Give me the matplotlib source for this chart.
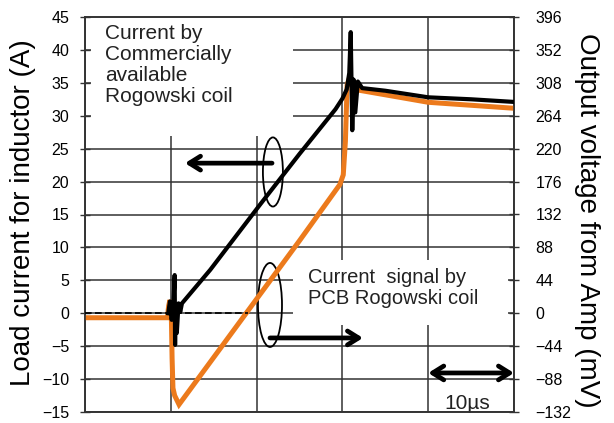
import matplotlib
matplotlib.use('Agg')
import matplotlib.pyplot as plt
from matplotlib.patches import Ellipse, Rectangle

plt.rcParams['font.family'] = ['Liberation Sans', 'DejaVu Sans']

# time axis (us), 5 divisions of 10 us
t_ticks = [0, 10, 20, 30, 40, 50]
a_ticks = list(range(-15, 46, 5))          # left axis, A
mv_ticks = list(range(-132, 397, 44))      # right axis, mV

# commercial Rogowski coil current (A)
t_blk = [9.7, 9.9, 10.1, 10.3, 10.45, 10.5, 10.55, 10.7, 10.9, 11.1, 11.3, 14.6, 20.4, 25.0,
         29.2, 30.0, 30.5, 30.8, 30.97, 31.05, 31.15, 31.3, 31.5, 31.8, 32.3, 35.0, 40.0, 45.0, 50.0]
blk_a = [0.0, 1.8, -1.0, 1.5, 5.8, -4.8, 1.0, -3.0, 1.5, 0.2, 1.5, 6.6, 16.5, 24.2,
         31.0, 32.6, 34.0, 36.5, 42.7, 36.0, 27.8, 35.5, 30.5, 35.2, 34.2, 33.8, 32.8, 32.5, 32.1]

# PCB Rogowski coil amp output (mV)
t_org = [0, 9.6, 9.75, 9.9, 10.05, 10.15, 10.25, 10.45, 10.96, 15.0, 20.0, 25.0,
         29.7, 30.1, 30.35, 30.55, 30.75, 31.2, 32.0, 35.0, 40.0, 45.0, 50.0]
org_mv = [-6, -6, 10, 17.6, 5, -60, -100, -110, -122, -59, 19, 97,
          172, 185, 230, 305, 312, 302, 298, 292, 282, 278, 274]

zero_t = [0, 19]
zero_a = [0, 0]

grid_col = '#333333'

fig = plt.figure(figsize=(6.14, 4.23), dpi=100)
ax = fig.add_axes([85/614, 1 - 412/423, 429/614, 395/423])
ax2 = ax.twinx()

ax.set_xlim(0, 50)
ax.set_ylim(-15, 45)
ax2.set_ylim(-132, 396)
ax.set_xticks(t_ticks)
ax.set_yticks(a_ticks)
ax2.set_yticks(mv_ticks)
ax.set_axisbelow(True)
ax.grid(True, color=grid_col, lw=1.1)
ax.tick_params(axis='x', length=0, labelbottom=False)
ax.tick_params(axis='y', direction='inout', length=7, width=1.0, color=grid_col,
               labelsize=11.5, pad=8)
ax2.tick_params(axis='y', direction='inout', length=7, width=1.0, color=grid_col,
                labelsize=11.5, pad=12)
for a in (ax, ax2):
    for s in a.spines.values():
        s.set_color(grid_col)
        s.set_linewidth(1.2)

# white areas behind the labels
ax.add_patch(Rectangle((0.7, 26.9), 23.5, 18.1, facecolor='white', edgecolor='none', zorder=1))
ax.add_patch(Rectangle((24.2, -1.8), 25.1, 9.9, facecolor='white', edgecolor='none', zorder=1))

# traces (orange on right axis, black on left axis drawn on top)
ax2.plot(t_org, org_mv, color='#EC7A1C', lw=3.6, solid_joinstyle='miter', zorder=2)
ax2.plot(t_blk, blk_a, color='black', lw=3.0, transform=ax.transData, zorder=3)
ax2.plot(zero_t, zero_a, color='black', lw=1.2, dashes=(4, 2), transform=ax.transData, zorder=3)

# annotations
ax.text(2.3, 44.0, 'Current by\nCommercially\navailable\nRogowski coil', fontsize=15,
        va='top', ha='left', linespacing=1.15, color='#222222', zorder=4)
ax.text(26.0, 6.9, 'Current  signal by\nPCB Rogowski coil', fontsize=14.5,
        va='top', ha='left', linespacing=1.15, color='#222222', zorder=4)
ax.text(44.5, -15.1, '10µs', fontsize=15, va='bottom', ha='center', color='#222222', zorder=4)

arw = dict(arrowstyle='->,head_length=0.8,head_width=0.5', lw=3.4, color='black',
           shrinkA=0, shrinkB=0)
ax.annotate('', xy=(11.65, 22.8), xytext=(21.8, 22.8), arrowprops=arw, zorder=4)
ax.annotate('', xy=(32.4, -3.75), xytext=(21.56, -3.75), arrowprops=arw, zorder=4)
ax.annotate('', xy=(50, -9.07), xytext=(40, -9.07),
            arrowprops=dict(arrowstyle='<->,head_length=0.8,head_width=0.5', lw=3.4,
                            color='black', shrinkA=0, shrinkB=0), zorder=4)
ax.add_patch(Ellipse((21.9, 21.46), 2.33, 10.5, fill=False, lw=1.3, ec='black', zorder=4))
ax.add_patch(Ellipse((21.56, 1.26), 2.8, 12.76, fill=False, lw=1.3, ec='black', zorder=4))

fig.text(23/614, 1 - 213/423, 'Load current for inductor (A)', rotation=90,
         ha='center', va='center', fontsize=20)
fig.text(587/614, 1 - 220/423, 'Output voltage from Amp (mV)', rotation=270,
         ha='center', va='center', fontsize=20)

fig.savefig('out.png', dpi=100)
